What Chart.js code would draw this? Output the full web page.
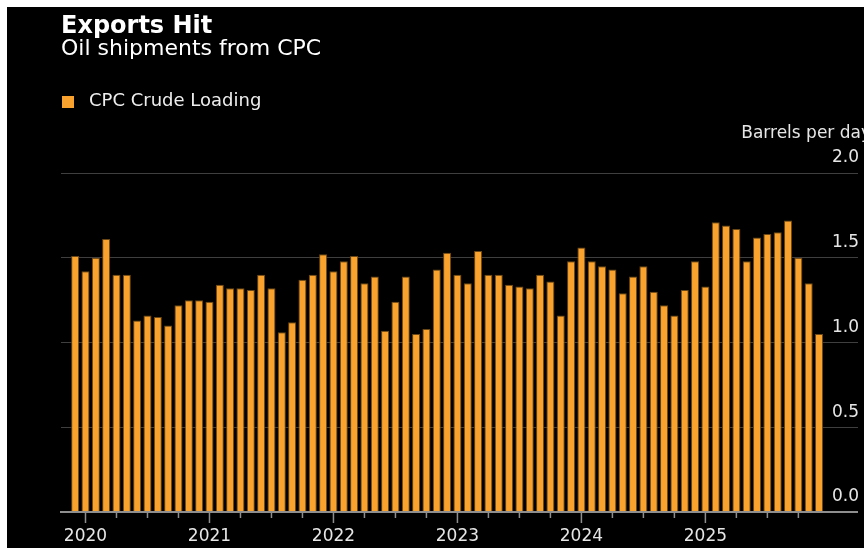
<!DOCTYPE html>
<html>
<head>
<meta charset="utf-8">
<script src="https://cdn.jsdelivr.net/npm/chart.js@4.4.1/dist/chart.umd.min.js"></script>
<style>
html,body{margin:0;padding:0;background:#fff;}
canvas{display:block;}
</style>
</head>
<body>
<canvas id="c" width="864" height="555"></canvas>
<script>
const months = [
  "2019-12",
  "2020-01","2020-02","2020-03","2020-04","2020-05","2020-06","2020-07","2020-08","2020-09","2020-10","2020-11","2020-12",
  "2021-01","2021-02","2021-03","2021-04","2021-05","2021-06","2021-07","2021-08","2021-09","2021-10","2021-11","2021-12",
  "2022-01","2022-02","2022-03","2022-04","2022-05","2022-06","2022-07","2022-08","2022-09","2022-10","2022-11","2022-12",
  "2023-01","2023-02","2023-03","2023-04","2023-05","2023-06","2023-07","2023-08","2023-09","2023-10","2023-11","2023-12",
  "2024-01","2024-02","2024-03","2024-04","2024-05","2024-06","2024-07","2024-08","2024-09","2024-10","2024-11","2024-12",
  "2025-01","2025-02","2025-03","2025-04","2025-05","2025-06","2025-07","2025-08","2025-09","2025-10","2025-11","2025-12"
];
// Million barrels per day
const cpcLoading = [
  1.51,
  1.42,1.50,1.61,1.40,1.40,1.13,1.16,1.15,1.10,1.22,1.25,1.25,
  1.24,1.34,1.32,1.32,1.31,1.40,1.32,1.06,1.12,1.37,1.40,1.52,
  1.42,1.48,1.51,1.35,1.39,1.07,1.24,1.39,1.05,1.08,1.43,1.53,
  1.40,1.35,1.54,1.40,1.40,1.34,1.33,1.32,1.40,1.36,1.16,1.48,
  1.56,1.48,1.45,1.43,1.29,1.39,1.45,1.30,1.22,1.16,1.31,1.48,
  1.33,1.71,1.69,1.67,1.48,1.62,1.64,1.65,1.72,1.50,1.35,1.05
];
const yearTicks = ["2020","2021","2022","2023","2024","2025"];
const yTickValues = [0, 0.5, 1.0, 1.5, 2.0];
const yTickLabels = ["0.0","0.5","1.0","1.5","2.0M"];
const titleText = "Exports Hit";
const subtitleText = "Oil shipments from CPC";
const seriesName = "CPC Crude Loading";
const unitLabel = "Barrels per day";

const ORANGE = '#f9a22d';
Chart.defaults.font.family = '"DejaVu Sans", sans-serif';
Chart.defaults.color = '#e6e6e6';

// legend marker: orange square in the left part of a wider transparent canvas
const legendIcon = document.createElement('canvas');
legendIcon.width = 18; legendIcon.height = 12;
(function(){ const g = legendIcon.getContext('2d'); g.fillStyle = ORANGE; g.fillRect(0,0,12,12); })();

const gridColor = '#3f3f3f';

const deco = {
  id: 'deco',
  beforeDraw(chart) {
    const c = chart.ctx;
    c.save();
    c.fillStyle = '#ffffff'; c.fillRect(0, 0, chart.width, chart.height);
    c.fillStyle = '#000000'; c.fillRect(7, 7, chart.width - 7, 541);
    c.restore();
  },
  afterDatasetsDraw(chart) {
    const {ctx, scales} = chart;
    const x = scales.x, y = scales.y, yL = scales.yL;
    const y0 = y.getPixelForValue(0);
    ctx.save();
    ctx.strokeStyle = '#8e8e8e';
    ctx.lineWidth = 2;
    ctx.beginPath(); ctx.moveTo(yL.left - 1, y0); ctx.lineTo(y.right, y0); ctx.stroke();
    ctx.lineWidth = 1.5;
    months.forEach((m, i) => {
      const mo = parseInt(m.slice(5), 10);
      if ((mo - 1) % 3 !== 0) return;
      const px = x.getPixelForValue(i);
      const len = mo === 1 ? 11 : 6;
      ctx.beginPath(); ctx.moveTo(px, y0); ctx.lineTo(px, y0 + len); ctx.stroke();
    });
    ctx.fillStyle = '#e6e6e6';
    ctx.font = '17px "DejaVu Sans"';
    ctx.textAlign = 'right';
    ctx.textBaseline = 'middle';
    ctx.fillText(unitLabel, 871, 134);
    ctx.restore();
  }
};

const setYTicks = s => { s.ticks = yTickValues.map(v => ({value: v})); };
const gridCol = c => (c.tick && c.tick.value === 0) ? 'rgba(0,0,0,0)' : gridColor;

new Chart(document.getElementById('c'), {
  type: 'bar',
  data: {
    labels: months,
    datasets: [{
      label: seriesName,
      data: cpcLoading,
      backgroundColor: ORANGE,
      borderColor: '#6a4714',
      borderWidth: 1,
      barPercentage: 0.78,
      categoryPercentage: 1.0
    }]
  },
  options: {
    responsive: false,
    animation: false,
    devicePixelRatio: 1,
    layout: {padding: {top: 7, left: 61, right: 6, bottom: 7}},
    plugins: {
      title: {
        display: true, text: titleText, align: 'start', color: '#ffffff',
        font: {size: 24, weight: 'bold', lineHeight: 1},
        padding: {top: 7.5, bottom: 0}
      },
      subtitle: {
        display: true, text: subtitleText, align: 'start', color: '#ffffff',
        font: {size: 22, weight: 'normal', lineHeight: 1},
        padding: {top: 0, bottom: 31}
      },
      legend: {
        display: true, align: 'start',
        labels: {
          color: '#eeeeee', font: {size: 18}, padding: 1,
          usePointStyle: true, pointStyle: legendIcon, pointStyleWidth: 18, boxHeight: 12
        }
      },
      tooltip: {enabled: false}
    },
    scales: {
      x: {
        type: 'category', position: 'bottom', offset: true,
        grid: {display: false, drawTicks: false}, border: {display: false},
        ticks: {
          autoSkip: false, maxRotation: 0, minRotation: 0, padding: 14,
          color: '#e6e6e6', font: {size: 17},
          callback: (v, i) => {
            const m = months[i];
            if (m.slice(5) !== '01') return '';
            const k = yearTicks.indexOf(m.slice(0, 4));
            return k >= 0 ? yearTicks[k] : '';
          }
        },
        afterFit: s => { s.height = 36; }
      },
      xTop: {
        type: 'category', position: 'top',
        grid: {display: false}, border: {display: false},
        ticks: {display: false},
        afterFit: s => { s.height = 52.5; }
      },
      y: {
        type: 'linear', position: 'right', min: 0, max: 2,
        afterBuildTicks: setYTicks,
        grid: {color: gridCol, tickColor: gridCol, lineWidth: 1, tickLength: 33.8, drawTicks: true},
        border: {display: false},
        ticks: {
          padding: -26, labelOffset: -15, color: '#e6e6e6', font: {size: 17},
          callback: (v, i) => yTickLabels[i]
        },
        afterFit: s => { s.width = 33.8; }
      },
      yL: {
        type: 'linear', position: 'left', min: 0, max: 2,
        afterBuildTicks: setYTicks,
        grid: {color: gridCol, tickColor: gridCol, drawOnChartArea: false, tickLength: 9, drawTicks: true},
        border: {display: false},
        ticks: {display: false},
        afterFit: s => { s.width = 9; }
      }
    }
  },
  plugins: [deco]
});
</script>
</body>
</html>
